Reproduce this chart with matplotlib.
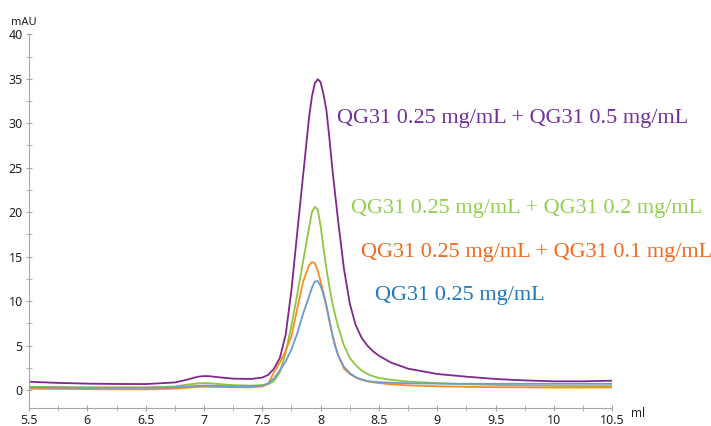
import matplotlib
matplotlib.use("Agg")
import matplotlib.pyplot as plt
from matplotlib.ticker import MultipleLocator

# elution volume (ml), shared by all traces
ml = [5.5, 5.75, 6.0, 6.25, 6.5, 6.75, 6.85, 6.95, 7.0, 7.05, 7.15, 7.25, 7.4,
      7.5, 7.55, 7.6, 7.65, 7.7, 7.75, 7.8, 7.85, 7.9, 7.925, 7.95, 7.975,
      8.0, 8.025, 8.05, 8.075, 8.1, 8.125, 8.15, 8.2, 8.25, 8.3, 8.35, 8.4, 8.45, 8.5,
      8.6, 8.75, 9.0, 9.25, 9.5, 9.75, 10.0, 10.25, 10.5]

# absorbance (mAU)
mix_05 = [0.93, 0.8, 0.72, 0.68, 0.67, 0.85, 1.15, 1.5, 1.57, 1.55, 1.4, 1.28, 1.24,
          1.4, 1.7, 2.4, 3.6, 6.2, 11.3, 17.8, 24.2, 30.6, 33.0, 34.5, 34.95,
          34.6, 33.2, 31.4, 28.3, 24.9, 21.9, 19.0, 13.6, 9.7, 7.3, 5.9, 5.0, 4.35, 3.85,
          3.1, 2.4, 1.8, 1.5, 1.24, 1.08, 0.98, 0.98, 1.05]
mix_02 = [0.37, 0.33, 0.3, 0.3, 0.3, 0.4, 0.6, 0.75, 0.78, 0.76, 0.65, 0.55, 0.5,
          0.55, 0.65, 1.0, 2.0, 4.2, 7.3, 10.8, 14.5, 18.2, 20.0, 20.6, 20.3,
          18.4, 15.9, 13.6, 11.6, 9.8, 8.4, 7.1, 5.0, 3.6, 2.8, 2.2, 1.8, 1.55, 1.35,
          1.15, 0.95, 0.78, 0.65, 0.57, 0.5, 0.47, 0.45, 0.45]
mix_01 = [0.15, 0.12, 0.1, 0.08, 0.08, 0.15, 0.25, 0.35, 0.37, 0.37, 0.33, 0.3, 0.3,
          0.4, 0.7, 2.0, 3.1, 4.4, 6.1, 9.2, 12.2, 14.0, 14.4, 14.25, 13.4,
          12.2, 10.9, 9.4, 7.8, 6.3, 5.0, 3.9, 2.4, 1.8, 1.4, 1.15, 0.98, 0.87, 0.78,
          0.65, 0.52, 0.42, 0.36, 0.32, 0.3, 0.28, 0.28, 0.3]
qg31 = [0.3, 0.27, 0.25, 0.25, 0.25, 0.3, 0.4, 0.48, 0.5, 0.5, 0.45, 0.42, 0.42,
        0.5, 0.75, 1.3, 2.2, 3.2, 4.6, 6.4, 8.6, 10.5, 11.5, 12.2, 12.25,
        11.7, 10.7, 9.4, 7.8, 6.2, 4.9, 3.9, 2.6, 1.9, 1.45, 1.2, 1.0, 0.93, 0.88,
        0.82, 0.76, 0.72, 0.7, 0.7, 0.7, 0.7, 0.7, 0.7]

labels = ["QG31 0.25 mg/mL + QG31 0.5 mg/mL",
          "QG31 0.25 mg/mL + QG31 0.2 mg/mL",
          "QG31 0.25 mg/mL + QG31 0.1 mg/mL",
          "QG31 0.25 mg/mL"]

fig = plt.figure(figsize=(7.11, 4.26), dpi=100)
ax = fig.add_axes([0.0408, 0.0427, 0.8204, 0.8768])

ax.plot(ml, mix_05, color="#80288C", lw=1.3)
ax.plot(ml, mix_02, color="#8DC63F", lw=1.3)
ax.plot(ml, mix_01, color="#FF8C1A", lw=1.3)
ax.plot(ml, qg31, color="#6A9BD1", lw=1.3)

ax.set_xlim(5.5, 10.5)
ax.set_ylim(-2, 40)
ax.xaxis.set_minor_locator(MultipleLocator(0.25))
ax.yaxis.set_major_locator(MultipleLocator(5))
ax.yaxis.set_minor_locator(MultipleLocator(2.5))
ax.set_xticks([5.5, 6, 6.5, 7, 7.5, 8, 8.5, 9, 9.5, 10, 10.5])
ax.set_xticklabels(["5.5", "6", "6.5", "7", "7.5", "8", "8.5", "9", "9.5", "10", "10.5"])

for s in ["top", "right"]:
    ax.spines[s].set_visible(False)
for s in ["left", "bottom"]:
    ax.spines[s].set_color("#A6A6A6")
ax.tick_params(which="both", direction="inout", color="#A6A6A6", length=5,
               labelsize=9, labelcolor="#222222", pad=2)
for t in ax.get_xticklabels() + ax.get_yticklabels():
    t.set_family("Noto Sans")

fig.text(11 / 711, 1 - 25 / 426, "mAU", fontsize=8, color="#222222",
         family="Noto Sans", va="baseline")
fig.text(631 / 711, 1 - 417 / 426, "ml", fontsize=8.5, color="#222222",
         family="Noto Sans", va="baseline")

# curve labels
font = dict(family="Liberation Serif", fontsize=16, va="baseline")
ax.text(8.14, 30.07, labels[0], color="#7030A0", **font)
ax.text(8.257, 19.88, labels[1], color="#92D050", **font)
ax.text(8.343, 15.0, labels[2], color="#F26A1B", **font)
ax.text(8.466, 10.12, labels[3], color="#1F77C0", **font)

fig.savefig("out.png", dpi=100)
